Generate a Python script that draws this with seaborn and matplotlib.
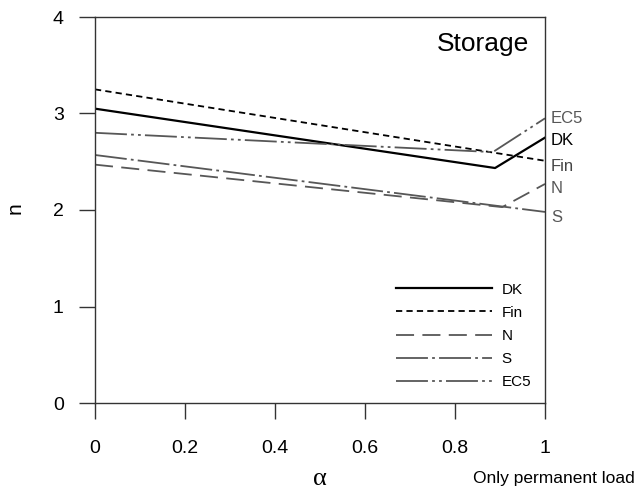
import matplotlib
matplotlib.use("Agg")
import matplotlib.pyplot as plt
import pandas as pd
import seaborn as sns

# data
codes = ["DK", "Fin", "N", "S", "EC5"]
alpha_dk = [0.0, 0.889, 1.0]
n_dk = [3.05, 2.435, 2.75]
alpha_fin = [0.0, 1.0]
n_fin = [3.25, 2.51]
alpha_n = [0.0, 0.905, 1.0]
n_n = [2.47, 2.03, 2.27]
alpha_s = [0.0, 1.0]
n_s = [2.57, 1.98]
alpha_ec5 = [0.0, 0.884, 1.0]
n_ec5 = [2.80, 2.60, 2.95]

xticks = [0, 0.2, 0.4, 0.6, 0.8, 1]
xticklabels = ["0", "0.2", "0.4", "0.6", "0.8", "1"]
yticks = [0, 1, 2, 3, 4]

plt.rcParams["font.family"] = ["Liberation Sans", "DejaVu Sans"]
plt.rcParams["lines.scale_dashes"] = False

gray = "#575757"
styles = {
    "DK":  dict(color="black", lw=1.6, ls="-"),
    "Fin": dict(color="black", lw=1.3, ls=(0, (4.5, 3))),
    "N":   dict(color=gray, lw=1.3, ls=(0, (13, 6))),
    "S":   dict(color=gray, lw=1.3, ls=(0, (23, 3, 2, 3))),
    "EC5": dict(color=gray, lw=1.3, ls=(0, (23, 3, 2, 3, 2, 3))),
}
series = {
    "DK": (alpha_dk, n_dk),
    "Fin": (alpha_fin, n_fin),
    "N": (alpha_n, n_n),
    "S": (alpha_s, n_s),
    "EC5": (alpha_ec5, n_ec5),
}

fig = plt.figure(figsize=(6.38, 4.9), dpi=100)
ax = fig.add_axes([95 / 638, 1 - 403 / 490, 450 / 638, 386 / 490])

for c in codes:
    xs, ys = series[c]
    d = pd.DataFrame({"alpha": xs, "n": ys})
    st = styles[c]
    sns.lineplot(data=d, x="alpha", y="n", ax=ax, color=st["color"], lw=st["lw"],
                 linestyle=st["ls"], label=c, legend=False, sort=False, estimator=None)

ax.set_xlim(0, 1)
ax.set_ylim(0, 4)
ax.set_xticks(xticks)
ax.set_xticklabels(xticklabels)
ax.set_yticks(yticks)
ax.tick_params(direction="out", length=11.5, width=1, color="#333333",
               labelsize=14, left=True, bottom=True)
ax.tick_params(axis="x", pad=15)
ax.tick_params(axis="y", pad=11)
for sp in ax.spines.values():
    sp.set_visible(True)
    sp.set_color("#333333")
    sp.set_linewidth(1)

ax.set_xlabel("")
ax.set_ylabel("")
fig.text(320 / 638, 1 - 479 / 490, "α", ha="center", va="center", fontsize=19,
         family=["Liberation Serif", "DejaVu Serif"])
fig.text(15 / 638, 1 - 208 / 490, "n", ha="center", va="center", fontsize=15, rotation=90)

ax.text(0.964, 0.93, "Storage", transform=ax.transAxes, ha="right", va="center", fontsize=19)
fig.text(635 / 638, 1 - 478 / 490, "Only permanent load", ha="right", va="center", fontsize=12.5)

# right-hand end labels
end_labels = [("EC5", 2.95, gray), ("DK", 2.72, "black"), ("Fin", 2.45, "#444444"),
              ("N", 2.22, gray), ("S", 1.92, gray)]
for lab, yv, col in end_labels:
    ax.text(1.013, yv, lab, transform=ax.get_yaxis_transform(), ha="left", va="center",
            fontsize=12, color=col, clip_on=False)

h, l = ax.get_legend_handles_labels()
ax.legend(h, l, loc="lower right", bbox_to_anchor=(1.0, 0.0), frameon=False, fontsize=11,
          handlelength=6.3, handletextpad=0.6, labelspacing=0.6)

fig.savefig("out.png", dpi=100)
